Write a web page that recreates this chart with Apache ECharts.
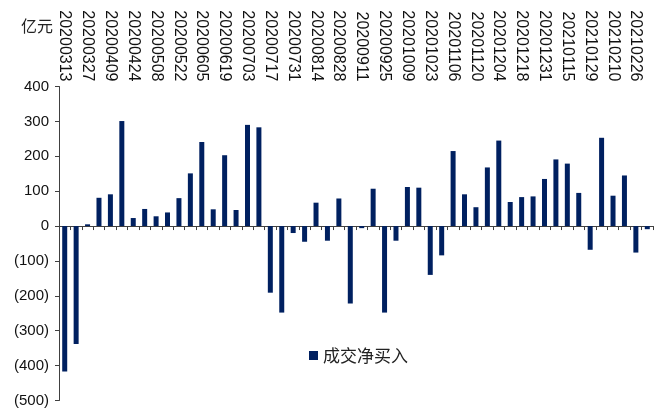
<!DOCTYPE html>
<html>
<head>
<meta charset="utf-8">
<script src="https://cdn.jsdelivr.net/npm/echarts@6/dist/echarts.min.js"></script>
<style>
html,body{margin:0;padding:0;background:#fff;}
#chart{width:655px;height:412px;}
</style>
</head>
<body>
<div id="chart"></div>
<script>
var categories = [
  '20200313','20200320','20200327','20200403','20200409','20200417','20200424','20200430',
  '20200508','20200515','20200522','20200529','20200605','20200612','20200619','20200624',
  '20200703','20200710','20200717','20200724','20200731','20200807','20200814','20200821',
  '20200828','20200904','20200911','20200918','20200925','20200930','20201009','20201016',
  '20201023','20201030','20201106','20201113','20201120','20201127','20201204','20201211',
  '20201218','20201225','20201231','20210108','20210115','20210122','20210129','20210205',
  '20210210','20210219','20210226','20210305'
];
var netBuy = [
  -417, -338, 5, 81, 91, 301, 23, 49,
  28, 39, 80, 151, 241, 48, 203, 46,
  290, 283, -191, -248, -20, -45, 67, -42,
  79, -222, -6, 107, -248, -42, 112, 110,
  -140, -84, 215, 91, 54, 168, 245, 69,
  83, 85, 135, 191, 179, 95, -68, 253,
  87, 145, -76, -9
];
var seriesName = '成交净买入';
var unitLabel = '亿元';

var chart = echarts.init(document.getElementById('chart'));
chart.setOption({
  animation: false,
  backgroundColor: '#ffffff',
  grid: { left: 59, right: 2, top: 86.5, bottom: 11.5, containLabel: false },
  graphic: [{
    type: 'text', left: 21, top: 18,
    style: { text: unitLabel, font: '16px "Noto Sans CJK SC"', fill: '#222' }
  }],
  legend: {
    data: [seriesName],
    left: 304, top: 342,
    itemWidth: 9, itemHeight: 9, itemGap: 4,
    icon: 'rect',
    textStyle: { fontFamily: '"Noto Sans CJK SC"', fontSize: 17, color: '#222' }
  },
  xAxis: [{
    type: 'category', data: categories, position: 'bottom',
    axisLine: { onZero: true, lineStyle: { color: '#404040', width: 1 } },
    axisTick: { show: true, interval: 0, alignWithLabel: false, length: 4, lineStyle: { color: '#404040' } },
    axisLabel: { show: false },
    splitLine: { show: false }
  }, {
    type: 'category', data: categories, position: 'top',
    axisLine: { show: false },
    axisTick: { show: false },
    axisLabel: { show: true, interval: 1, rotate: 90, margin: 5,
      fontFamily: '"Liberation Sans", Arial', fontSize: 16, color: '#111' },
    splitLine: { show: false }
  }],
  yAxis: {
    type: 'value', min: -500, max: 400, interval: 100,
    axisLine: { show: true, lineStyle: { color: '#404040', width: 1 } },
    axisTick: { show: true, length: 4, lineStyle: { color: '#404040' } },
    axisLabel: {
      margin: 10, fontFamily: '"Liberation Sans", Arial', fontSize: 15, color: '#111',
      formatter: function (v) { return v < 0 ? '(' + Math.abs(v) + ')' : String(v); }
    },
    splitLine: { show: false }
  },
  series: [{
    name: seriesName, type: 'bar', xAxisIndex: 0, data: netBuy,
    barWidth: 5,
    itemStyle: { color: '#002060' }
  }]
});
</script>
</body>
</html>
